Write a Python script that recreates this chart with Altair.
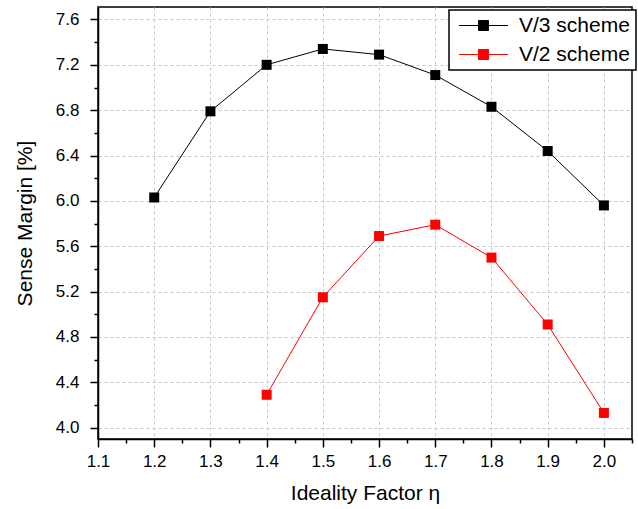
import altair as alt
import pandas as pd

eta_v3 = [1.2, 1.3, 1.4, 1.5, 1.6, 1.7, 1.8, 1.9, 2.0]
margin_v3 = [6.03, 6.79, 7.20, 7.34, 7.29, 7.11, 6.83, 6.44, 5.96]
eta_v2 = [1.4, 1.5, 1.6, 1.7, 1.8, 1.9, 2.0]
margin_v2 = [4.29, 5.15, 5.69, 5.79, 5.50, 4.91, 4.13]
series_names = ["V/3 scheme", "V/2 scheme"]
series_colors = ["#000000", "#ff0000"]

x_ticks = [1.1, 1.15, 1.2, 1.25, 1.3, 1.35, 1.4, 1.45, 1.5, 1.55, 1.6, 1.65,
           1.7, 1.75, 1.8, 1.85, 1.9, 1.95, 2.0, 2.05]
y_ticks = [4.0, 4.2, 4.4, 4.6, 4.8, 5.0, 5.2, 5.4, 5.6, 5.8, 6.0, 6.2, 6.4,
           6.6, 6.8, 7.0, 7.2, 7.4, 7.6]

df = pd.concat([
    pd.DataFrame({"eta": eta_v3, "margin": margin_v3, "series": series_names[0]}),
    pd.DataFrame({"eta": eta_v2, "margin": margin_v2, "series": series_names[1]}),
])

FONT = "Liberation Sans, Arial, sans-serif"
x_major = "abs(datum.value*10 - round(datum.value*10)) < 0.001"
y_major = "abs(datum.value/0.4 - round(datum.value/0.4)) < 0.001"

x_axis = alt.Axis(
    values=x_ticks, title="Ideality Factor η",
    labelExpr=f"{x_major} ? format(datum.value, '.1f') : ''",
    labelFlush=False, labelOverlap=False,
    tickSize={"condition": {"test": x_major, "value": 8}, "value": 4},
    gridOpacity={"condition": {"test": x_major, "value": 1}, "value": 0},
    labelPadding=6, titlePadding=13,
)
y_axis = alt.Axis(
    values=y_ticks, title="Sense Margin [%]",
    labelExpr=f"{y_major} ? format(datum.value, '.1f') : ''",
    labelFlush=False, labelOverlap=False,
    tickSize={"condition": {"test": y_major, "value": 8}, "value": 4},
    gridOpacity={"condition": {"test": y_major, "value": 1}, "value": 0},
    labelPadding=11, titlePadding=20,
)

x_enc = alt.X("eta:Q", scale=alt.Scale(domain=[1.1, 2.05], nice=False, zero=False), axis=x_axis)
y_enc = alt.Y("margin:Q", scale=alt.Scale(domain=[3.9, 7.71], nice=False, zero=False), axis=y_axis)

# legend glyph: line - square - line (units of 5 px), trailing move widens the box
sym_path = ("M-1.1,0L2.8,0M4.8,0L8.7,0"
            "M2.8,-1L4.8,-1L4.8,1L2.8,1Z"
            "M32.9,0")
color_enc = alt.Color(
    "series:N",
    scale=alt.Scale(domain=series_names, range=series_colors),
    legend=alt.Legend(
        title=None, orient="none", legendX=351, legendY=3,
        symbolType=sym_path, symbolSize=100, symbolStrokeWidth=1,
        labelFontSize=21, labelFont=FONT, labelColor="#000000",
        labelOffset=44, padding=5, rowPadding=7,
        strokeColor="#000000", fillColor="#ffffff",
    ),
)

lines = alt.Chart(df).mark_line(strokeWidth=1).encode(
    x=x_enc, y=y_enc, color=color_enc, detail="series:N")
points = alt.Chart(df).mark_point(shape="square", filled=True, size=100, opacity=1).encode(
    x=x_enc, y=y_enc, color=color_enc,
    fill=alt.Fill("series:N", scale=alt.Scale(domain=series_names, range=series_colors), legend=None))

chart = alt.layer(lines, points).properties(
    width=534, height=432,
    padding={"left": 98, "top": 7, "right": 6, "bottom": 70},
    autosize="none",
).configure_view(
    stroke="#000000", strokeWidth=1.5,
).configure_axis(
    labelFont=FONT, titleFont=FONT, labelFontSize=17, titleFontSize=21,
    titleFontWeight="normal", labelColor="#000000", titleColor="#000000",
    domainColor="#000000", domainWidth=1.5, tickColor="#000000", tickWidth=1.5,
    gridColor="#c8c8c8", gridDash=[3, 3], gridWidth=1,
).configure_legend(
    strokeWidth=1.5,
)

chart.save("out.html", embed_options={"renderer": "svg", "actions": False})
